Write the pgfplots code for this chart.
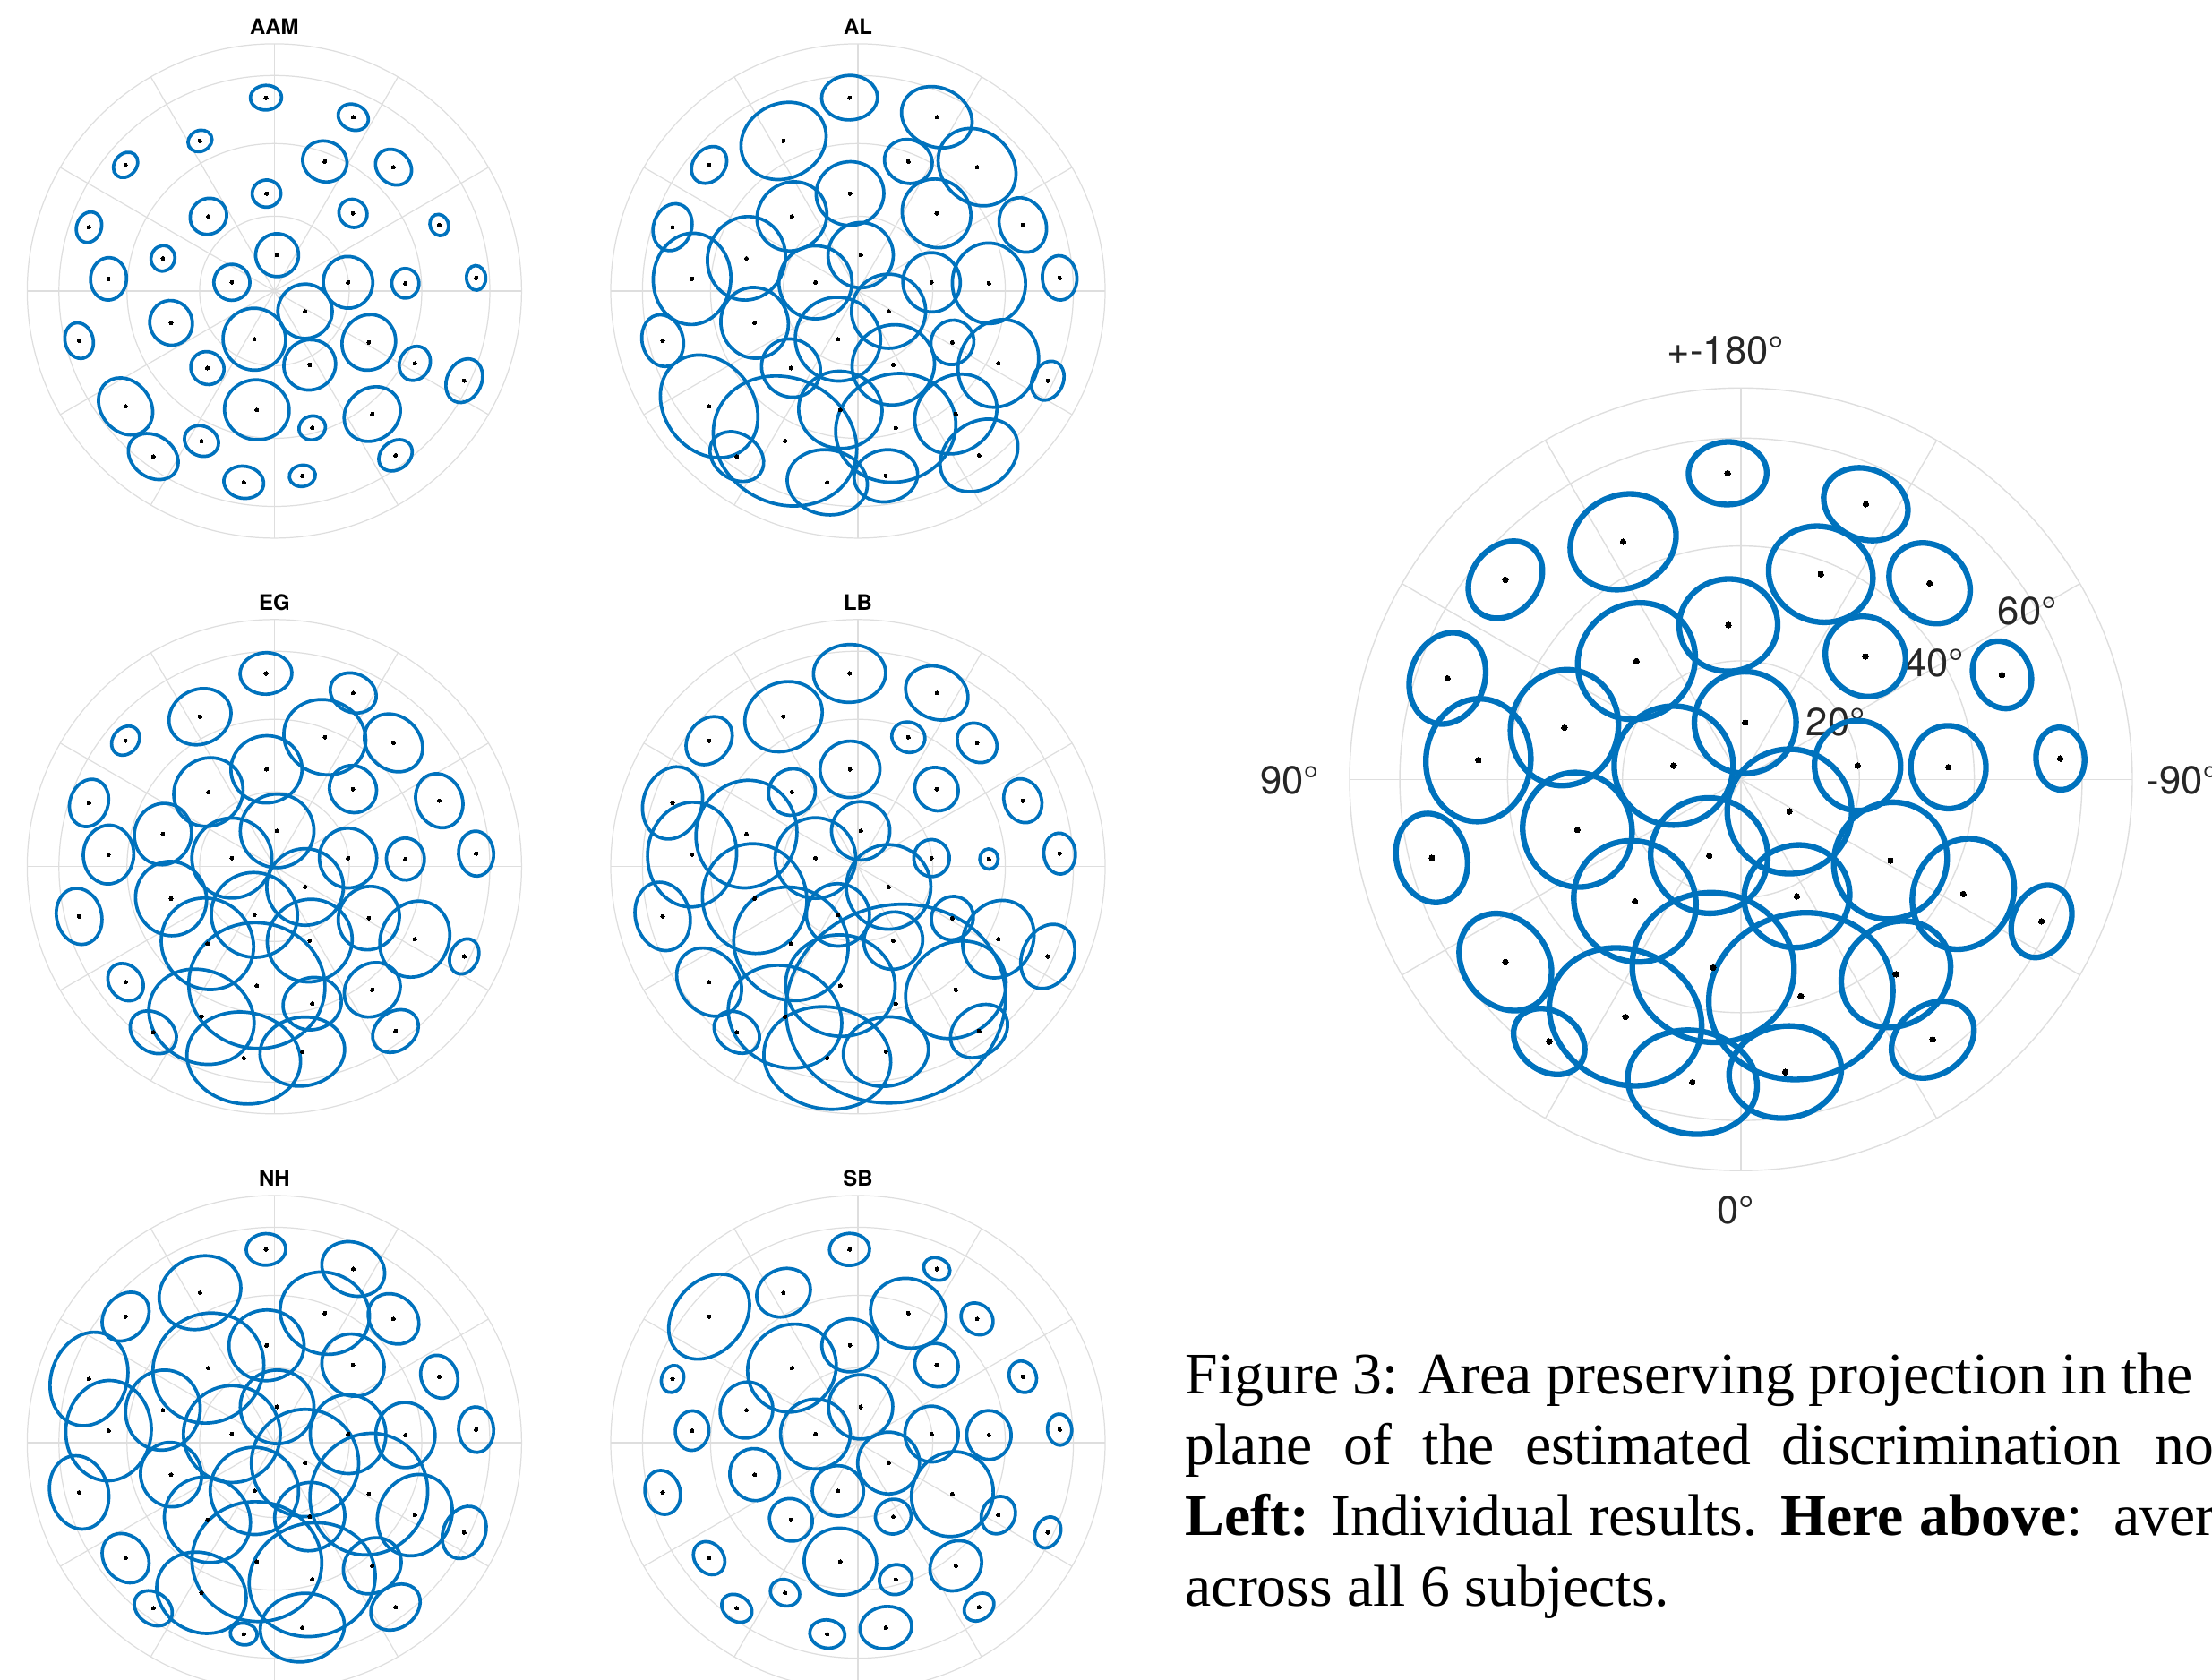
\documentclass[border=0pt]{standalone}
\usepackage{pgfplots}
\pgfplotsset{compat=1.18}
\usepackage{pgfplotstable}
\usepackage{fontspec}
\setmainfont{Liberation Serif}
\newfontfamily\helv{TeX Gyre Heros}

\definecolor{ellblue}{RGB}{0,114,189}
\definecolor{gridline}{RGB}{222,222,222}
\definecolor{labelgray}{RGB}{38,38,38}

% Discrimination ellipses in the area-preserving projection (rim of the plot = 70 deg, radius 1).
% x y : centre of the test direction
% p q : tangential / radial semi-axis
% t   : orientation of the tangential axis (deg)
\pgfplotstableread{
x y p q t
-0.034 0.782 0.063 0.050 2
0.319 0.703 0.063 0.051 -24
-0.301 0.607 0.050 0.042 26
-0.602 0.510 0.056 0.044 50
0.204 0.524 0.091 0.082 -21
0.482 0.501 0.079 0.066 -44
-0.032 0.394 0.058 0.055 5
-0.267 0.302 0.076 0.071 41
0.318 0.314 0.059 0.055 -45
-0.750 0.258 0.063 0.050 71
0.667 0.267 0.044 0.037 -68
-0.451 0.132 0.052 0.048 74
0.011 0.145 0.087 0.087 -5
-0.671 0.049 0.086 0.073 86
-0.172 0.035 0.073 0.073 78
0.298 0.035 0.105 0.100 -83
0.530 0.031 0.060 0.055 -87
0.816 0.053 0.050 0.039 -86
0.124 -0.082 0.110 0.110 57
-0.418 -0.129 0.091 0.086 -73
-0.790 -0.201 0.073 0.057 -76
-0.081 -0.195 0.127 0.125 -22
0.382 -0.208 0.114 0.107 62
-0.271 -0.312 0.069 0.065 -41
0.143 -0.299 0.106 0.101 26
0.568 -0.293 0.071 0.061 63
0.768 -0.363 0.092 0.070 65
-0.602 -0.467 0.124 0.100 -52
-0.071 -0.481 0.131 0.121 -8
0.396 -0.498 0.120 0.104 39
-0.295 -0.607 0.071 0.060 -26
0.153 -0.554 0.054 0.048 16
-0.490 -0.670 0.109 0.084 -36
0.490 -0.665 0.073 0.057 37
-0.124 -0.774 0.081 0.065 -9
0.113 -0.748 0.053 0.043 9
}\AAMtab

\pgfplotstableread{
x y p q t
-0.034 0.782 0.113 0.090 2
0.319 0.703 0.147 0.119 -24
-0.301 0.607 0.177 0.151 26
-0.602 0.510 0.081 0.064 50
0.204 0.524 0.098 0.088 -21
0.482 0.501 0.170 0.143 -44
-0.032 0.394 0.137 0.129 5
-0.267 0.302 0.145 0.136 41
0.318 0.314 0.143 0.135 -45
-0.750 0.258 0.097 0.077 71
0.667 0.267 0.113 0.093 -68
-0.451 0.132 0.170 0.157 74
0.011 0.145 0.132 0.132 -5
-0.671 0.049 0.185 0.157 86
-0.172 0.035 0.148 0.148 78
0.298 0.035 0.120 0.116 -83
0.530 0.031 0.163 0.148 -87
0.816 0.053 0.090 0.070 -86
0.124 -0.082 0.150 0.150 57
-0.418 -0.129 0.144 0.136 -73
-0.790 -0.201 0.106 0.083 -76
-0.081 -0.195 0.173 0.169 -22
0.382 -0.208 0.091 0.086 62
-0.271 -0.312 0.122 0.115 -41
0.143 -0.299 0.168 0.161 26
0.568 -0.293 0.182 0.158 63
0.768 -0.363 0.082 0.062 65
-0.602 -0.467 0.223 0.180 -52
-0.071 -0.481 0.169 0.156 -8
0.396 -0.498 0.175 0.152 39
-0.295 -0.607 0.298 0.254 -26
0.153 -0.554 0.245 0.218 16
-0.490 -0.670 0.117 0.091 -36
0.490 -0.665 0.170 0.132 37
-0.124 -0.774 0.163 0.131 -9
0.113 -0.748 0.129 0.105 9
}\ALtab

\pgfplotstableread{
x y p q t
-0.034 0.782 0.105 0.084 2
0.319 0.703 0.096 0.078 -24
-0.301 0.607 0.129 0.110 26
-0.602 0.510 0.064 0.051 50
0.204 0.524 0.168 0.150 -21
0.482 0.501 0.127 0.107 -44
-0.032 0.394 0.144 0.136 5
-0.267 0.302 0.144 0.135 41
0.318 0.314 0.098 0.093 -45
-0.750 0.258 0.098 0.077 71
0.667 0.267 0.112 0.093 -68
-0.451 0.132 0.125 0.115 74
0.011 0.145 0.149 0.149 -5
-0.671 0.049 0.119 0.102 86
-0.172 0.035 0.162 0.162 78
0.298 0.035 0.121 0.116 -83
0.530 0.031 0.085 0.077 -87
0.816 0.053 0.091 0.071 -86
0.124 -0.082 0.155 0.155 57
-0.418 -0.129 0.151 0.143 -73
-0.790 -0.201 0.115 0.091 -76
-0.081 -0.195 0.175 0.171 -22
0.382 -0.208 0.130 0.122 62
-0.271 -0.312 0.192 0.180 -41
0.143 -0.299 0.173 0.166 26
0.568 -0.293 0.158 0.137 63
0.768 -0.363 0.074 0.056 65
-0.602 -0.467 0.081 0.066 -52
-0.071 -0.481 0.276 0.254 -8
0.396 -0.498 0.119 0.104 39
-0.295 -0.607 0.219 0.186 -26
0.153 -0.554 0.119 0.105 16
-0.490 -0.670 0.101 0.078 -36
0.490 -0.665 0.100 0.078 37
-0.124 -0.774 0.231 0.185 -9
0.113 -0.748 0.172 0.139 9
}\EGtab

\pgfplotstableread{
x y p q t
-0.034 0.782 0.146 0.117 2
0.319 0.703 0.130 0.105 -24
-0.301 0.607 0.161 0.137 26
-0.602 0.510 0.106 0.084 50
0.204 0.524 0.068 0.061 -21
0.482 0.501 0.087 0.073 -44
-0.032 0.394 0.121 0.114 5
-0.267 0.302 0.097 0.092 41
0.318 0.314 0.091 0.085 -45
-0.750 0.258 0.149 0.118 71
0.667 0.267 0.091 0.075 -68
-0.451 0.132 0.219 0.203 74
0.011 0.145 0.118 0.118 -5
-0.671 0.049 0.212 0.180 86
-0.172 0.035 0.163 0.163 78
0.298 0.035 0.075 0.072 -83
0.530 0.031 0.041 0.037 -87
0.816 0.053 0.083 0.064 -86
0.124 -0.082 0.171 0.171 57
-0.418 -0.129 0.223 0.210 -73
-0.790 -0.201 0.140 0.110 -76
-0.081 -0.195 0.128 0.126 -22
0.382 -0.208 0.089 0.084 62
-0.271 -0.312 0.237 0.224 -41
0.143 -0.299 0.120 0.115 26
0.568 -0.293 0.161 0.140 63
0.768 -0.363 0.135 0.103 65
-0.602 -0.467 0.148 0.120 -52
-0.071 -0.481 0.222 0.205 -8
0.396 -0.498 0.214 0.186 39
-0.295 -0.607 0.236 0.201 -26
0.153 -0.554 0.448 0.398 16
-0.490 -0.670 0.099 0.077 -36
0.490 -0.665 0.125 0.097 37
-0.124 -0.774 0.258 0.206 -9
0.113 -0.748 0.173 0.140 9
}\LBtab

\pgfplotstableread{
x y p q t
-0.034 0.782 0.080 0.064 2
0.319 0.703 0.131 0.106 -24
-0.301 0.607 0.170 0.144 26
-0.602 0.510 0.108 0.085 50
0.204 0.524 0.183 0.164 -21
0.482 0.501 0.111 0.093 -44
-0.032 0.394 0.152 0.143 5
-0.267 0.302 0.230 0.217 41
0.318 0.314 0.130 0.122 -45
-0.750 0.258 0.193 0.153 71
0.667 0.267 0.089 0.073 -68
-0.451 0.132 0.163 0.150 74
0.011 0.145 0.149 0.149 -5
-0.671 0.049 0.203 0.173 86
-0.172 0.035 0.196 0.196 78
0.298 0.035 0.160 0.153 -83
0.530 0.031 0.132 0.120 -87
0.816 0.053 0.092 0.071 -86
0.124 -0.082 0.217 0.217 57
-0.418 -0.129 0.131 0.123 -73
-0.790 -0.201 0.150 0.118 -76
-0.081 -0.195 0.179 0.176 -22
0.382 -0.208 0.249 0.235 62
-0.271 -0.312 0.179 0.168 -41
0.143 -0.299 0.143 0.137 26
0.568 -0.293 0.169 0.147 63
0.768 -0.363 0.110 0.084 65
-0.602 -0.467 0.107 0.087 -52
-0.071 -0.481 0.263 0.242 -8
0.396 -0.498 0.123 0.107 39
-0.295 -0.607 0.186 0.159 -26
0.153 -0.554 0.257 0.228 16
-0.490 -0.670 0.083 0.064 -36
0.490 -0.665 0.108 0.084 37
-0.124 -0.774 0.055 0.044 -9
0.113 -0.748 0.171 0.138 9
}\NHtab

\pgfplotstableread{
x y p q t
-0.034 0.782 0.081 0.065 2
0.319 0.703 0.055 0.044 -24
-0.301 0.607 0.112 0.095 26
-0.602 0.510 0.190 0.142 50
0.204 0.524 0.155 0.139 -21
0.482 0.501 0.070 0.059 -44
-0.032 0.394 0.114 0.107 5
-0.267 0.302 0.184 0.173 41
0.318 0.314 0.091 0.085 -45
-0.750 0.258 0.056 0.044 71
0.667 0.267 0.065 0.054 -68
-0.451 0.132 0.114 0.106 74
0.011 0.145 0.130 0.130 -5
-0.671 0.049 0.080 0.068 86
-0.172 0.035 0.141 0.141 78
0.298 0.035 0.113 0.108 -83
0.530 0.031 0.099 0.090 -87
0.816 0.053 0.063 0.049 -86
0.124 -0.082 0.125 0.125 57
-0.418 -0.129 0.106 0.100 -73
-0.790 -0.201 0.090 0.071 -76
-0.081 -0.195 0.104 0.102 -22
0.382 -0.208 0.174 0.163 62
-0.271 -0.312 0.089 0.084 -41
0.143 -0.299 0.073 0.070 26
0.568 -0.293 0.078 0.067 63
0.768 -0.363 0.065 0.050 65
-0.602 -0.467 0.072 0.058 -52
-0.071 -0.481 0.147 0.135 -8
0.396 -0.498 0.110 0.096 39
-0.295 -0.607 0.061 0.052 -26
0.153 -0.554 0.067 0.060 16
-0.490 -0.670 0.066 0.051 -36
0.490 -0.665 0.065 0.051 37
-0.124 -0.774 0.071 0.057 -9
0.113 -0.748 0.105 0.085 9
}\SBtab

% average across the six subjects
\pgfplotstableread{
x y p q t
-0.034 0.782 0.100 0.080 2
0.319 0.703 0.111 0.089 -24
-0.301 0.607 0.139 0.118 26
-0.602 0.510 0.107 0.085 50
0.204 0.524 0.135 0.121 -21
0.482 0.501 0.112 0.094 -44
-0.032 0.394 0.126 0.118 5
-0.267 0.302 0.154 0.145 41
0.318 0.314 0.106 0.099 -45
-0.750 0.258 0.119 0.095 71
0.667 0.267 0.088 0.073 -68
-0.451 0.132 0.149 0.137 74
0.011 0.145 0.130 0.130 -5
-0.671 0.049 0.157 0.134 86
-0.172 0.035 0.152 0.152 78
0.298 0.035 0.115 0.110 -83
0.530 0.031 0.106 0.096 -87
0.816 0.053 0.080 0.062 -86
0.124 -0.082 0.159 0.159 57
-0.418 -0.129 0.147 0.139 -73
-0.790 -0.201 0.115 0.090 -76
-0.081 -0.195 0.150 0.147 -22
0.382 -0.208 0.151 0.143 62
-0.271 -0.312 0.160 0.151 -41
0.143 -0.299 0.136 0.130 26
0.568 -0.293 0.145 0.126 63
0.768 -0.363 0.096 0.073 65
-0.602 -0.467 0.133 0.108 -52
-0.071 -0.481 0.207 0.191 -8
0.396 -0.498 0.147 0.128 39
-0.295 -0.607 0.200 0.170 -26
0.153 -0.554 0.237 0.211 16
-0.490 -0.670 0.098 0.076 -36
0.490 -0.665 0.114 0.088 37
-0.124 -0.774 0.166 0.132 -9
0.113 -0.748 0.144 0.117 9
}\AVGtab

\pgfplotsset{
  panel/.style={
    x=#1, y=#1, xmin=-1, xmax=1, ymin=-1, ymax=1,
    enlargelimits=false, hide axis, clip=false, anchor=center,
  },
  % each row drawn as an ellipse: unit circle mark scaled to p,q (in pt) and rotated by t
  ellipse set/.style={
    scatter, only marks, mark=o, mark size=1pt,
    point meta=explicit,
    color=ellblue, line width=#1,
    visualization depends on={\thisrow{p} \as \ea},
    visualization depends on={\thisrow{q} \as \eb},
    visualization depends on={\thisrow{t} \as \et},
    scatter/@pre marker code/.code={\scope[rotate=\et,xscale=\ea*\Rpt,yscale=\eb*\Rpt]},
    scatter/@post marker code/.code={\endscope},
  },
  centre dots/.style={
    only marks, mark=*, mark size=#1, color=black,
    mark options={draw=black, fill=black, line width=0pt},
  },
}

% polar grid: 20, 40, 60 deg circles, 70 deg rim, spokes every 30 deg
\newcommand\polargrid[2]{%
  \draw[gridline, line width=#2] (axis cs:0,0) circle[radius=0.3027*#1];
  \draw[gridline, line width=#2] (axis cs:0,0) circle[radius=0.5963*#1];
  \draw[gridline, line width=#2] (axis cs:0,0) circle[radius=0.8717*#1];
  \draw[gridline, line width=#2] (axis cs:0,0) circle[radius=#1];
  \pgfplotsinvokeforeach{0,30,...,330}{\draw[gridline, line width=#2] (axis cs:0,0) -- ++(##1:#1);}%
}

\newcommand\smallpanel[3]{% #1 position, #2 table, #3 title
  \begin{axis}[panel=27.6mm, at={#1}]
    \polargrid{27.6mm}{0.35pt}
    \addplot[ellipse set=1.05pt] table[x=x, y=y, meta=p] {#2};
    \addplot[centre dots=0.58pt] table[x=x, y=y] {#2};
    \node[font=\helv\bfseries\fontsize{6.8}{8}\selectfont, anchor=base, inner sep=0pt]
      at (axis cs:0,1.039) {#3};
  \end{axis}
}

\begin{document}
\begin{tikzpicture}
  \def\Rpt{78.53}
  \smallpanel{(30.64mm,-32.49mm)}{\AAMtab}{AAM}
  \smallpanel{(95.80mm,-32.49mm)}{\ALtab}{AL}
  \smallpanel{(30.64mm,-96.78mm)}{\EGtab}{EG}
  \smallpanel{(95.80mm,-96.78mm)}{\LBtab}{LB}
  \smallpanel{(30.64mm,-161.10mm)}{\NHtab}{NH}
  \smallpanel{(95.80mm,-161.10mm)}{\SBtab}{SB}

  \def\Rpt{124.34}
  \begin{axis}[panel=43.7mm, at={(194.40mm,-87.02mm)}]
    \polargrid{43.7mm}{0.4pt}
    \addplot[ellipse set=1.8pt] table[x=x, y=y, meta=p] {\AVGtab};
    \addplot[centre dots=0.9pt] table[x=x, y=y] {\AVGtab};
    \begin{scope}[every node/.style={font=\helv\fontsize{12.4}{14}\selectfont, text=labelgray, inner sep=0pt}]
      \node at (axis cs:-0.039,1.096) {+-180°};
      \node at (axis cs:-0.014,-1.102) {0°};
      \node at (axis cs:-1.153,-0.003) {90°};
      \node[anchor=west] at (axis cs:1.034,-0.003) {-90°};
      \node at (axis cs:0.242,0.146) {20°};
      \node at (axis cs:0.495,0.296) {40°};
      \node at (axis cs:0.732,0.430) {60°};
    \end{scope}
  \end{axis}

  \begin{scope}[every node/.style={anchor=base west, inner sep=0pt, font=\fontsize{18.7}{22.4}\selectfont}]
    \node at (132.3mm,-155.6mm) {\makebox[112.5mm][s]{Figure 3: Area preserving projection in the}\hspace{2.2mm}horizontal};
    \node at (132.3mm,-163.5mm) {\makebox[104.5mm][s]{plane of the estimated discrimination}\hspace{3.8mm}noise};
    \node at (132.3mm,-171.4mm) {\makebox[100.2mm][s]{\textbf{Left:} Individual results. \textbf{Here above}:}\hspace{3.5mm}averaged};
    \node at (132.3mm,-179.3mm) {across all 6 subjects.};
  \end{scope}

  \pgfresetboundingbox
  \path[use as bounding box] (0,0) rectangle (247mm,-187.5mm);
\end{tikzpicture}
\end{document}
